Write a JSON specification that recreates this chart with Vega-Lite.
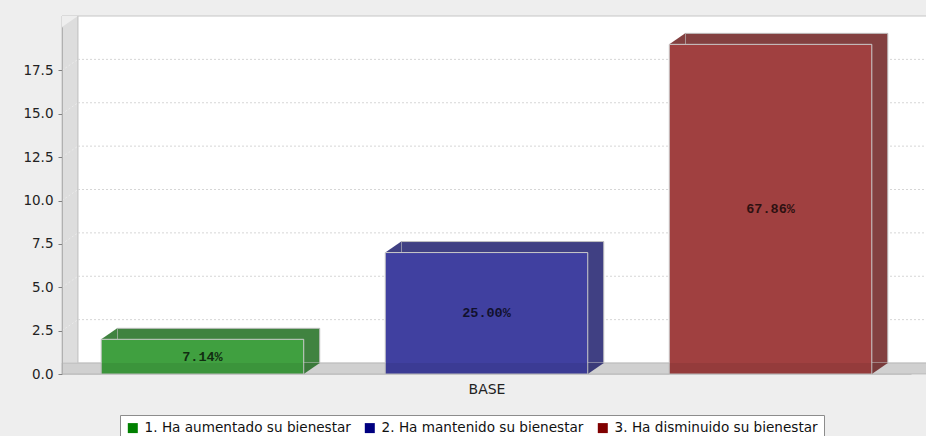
{
  "$schema": "https://vega.github.io/schema/vega-lite/v6.json",
  "width": 849,
  "height": 347,
  "autosize": "none",
  "padding": {"left": 62, "top": 27, "right": 15, "bottom": 62},
  "background": "#eeeeee",
  "config": {"view": {"stroke": null}, "font": "DejaVu Sans"},
  "datasets": {
    "respuestas": [
      {"serie": "1. Ha aumentado su bienestar", "grupo": "BASE", "cantidad": 2, "porcentaje": 0.0714},
      {"serie": "2. Ha mantenido su bienestar", "grupo": "BASE", "cantidad": 7, "porcentaje": 0.25},
      {"serie": "3. Ha disminuido su bienestar", "grupo": "BASE", "cantidad": 19, "porcentaje": 0.6786}
    ],
    "rejilla": [{"v": 2.5}, {"v": 5}, {"v": 7.5}, {"v": 10}, {"v": 12.5}, {"v": 15}, {"v": 17.5}]
  },
  "layer": [
    {
      "data": {"values": [{}]},
      "layer": [
        {
          "mark": {"type": "rect", "fill": "#dddddd", "stroke": "#c6c6c6", "strokeWidth": 1, "x2Offset": 16, "yOffset": -11},
          "encoding": {
            "x": {"datum": 0, "type": "quantitative", "scale": {"domain": [0, 1], "nice": false, "zero": false}, "axis": null},
            "x2": {"datum": 0},
            "y": {"datum": 20, "type": "quantitative", "scale": {"domain": [0, 20], "nice": false}, "axis": null},
            "y2": {"datum": 0}
          }
        },
        {
          "mark": {"type": "point", "shape": "M0,0 L0,-0.6875 L1,-0.6875 Z", "size": 1024, "filled": true, "opacity": 1, "strokeWidth": 0, "fill": "#eeeeee"},
          "encoding": {
            "x": {"datum": 0, "type": "quantitative"},
            "y": {"datum": 20, "type": "quantitative"}
          }
        },
        {
          "mark": {"type": "rect", "fill": "white", "stroke": "#c6c6c6", "strokeWidth": 1, "xOffset": 16, "x2Offset": 16, "yOffset": -11, "y2Offset": -11},
          "encoding": {
            "x": {"datum": 0, "type": "quantitative"},
            "x2": {"datum": 1},
            "y": {"datum": 20, "type": "quantitative"},
            "y2": {"datum": 0}
          }
        },
        {
          "data": {"name": "rejilla"},
          "mark": {"type": "rule", "stroke": "#d6d6d6", "strokeWidth": 1, "strokeDash": [2, 2], "xOffset": 16, "x2Offset": 16, "yOffset": -11},
          "encoding": {
            "x": {"datum": 0, "type": "quantitative"},
            "x2": {"datum": 1},
            "y": {"field": "v", "type": "quantitative"}
          }
        },
        {
          "data": {"name": "rejilla"},
          "mark": {"type": "rule", "stroke": "#ebebeb", "strokeWidth": 1, "strokeDash": [2, 2], "x2Offset": 16, "y2Offset": -11},
          "encoding": {
            "x": {"datum": 0, "type": "quantitative"},
            "x2": {"datum": 0},
            "y": {"field": "v", "type": "quantitative"},
            "y2": {"field": "v"}
          }
        },
        {
          "mark": {"type": "rect", "fill": "#e0e0e0", "stroke": "#c6c6c6", "strokeWidth": 1, "x2Offset": 16, "yOffset": -11},
          "encoding": {
            "x": {"datum": 0, "type": "quantitative"},
            "x2": {"datum": 1},
            "y": {"datum": 0, "type": "quantitative"},
            "y2": {"datum": 0}
          }
        }
      ]
    },
    {
      "data": {"name": "respuestas"},
      "layer": [
        {
          "encoding": {
            "x": {
              "field": "serie",
              "type": "nominal",
              "sort": null,
              "scale": {"paddingInner": 0.287, "paddingOuter": 0.138},
              "axis": {
                "orient": "bottom",
                "labels": false,
                "ticks": false,
                "domain": true,
                "domainColor": "#c0c0c0",
                "title": "BASE",
                "titleFont": "DejaVu Sans",
                "titleFontSize": 14,
                "titleFontWeight": "normal",
                "titleColor": "#222222",
                "titlePadding": 8
              }
            },
            "y": {
              "field": "cantidad",
              "type": "quantitative",
              "scale": {"domain": [0, 20], "nice": false},
              "axis": {
                "orient": "left",
                "values": [0, 2.5, 5, 7.5, 10, 12.5, 15, 17.5],
                "format": ".1f",
                "grid": false,
                "title": null,
                "labelFont": "DejaVu Sans",
                "labelFontSize": 13.5,
                "labelColor": "#222222",
                "labelPadding": 5,
                "tickSize": 4,
                "tickColor": "#808080",
                "domainColor": "#b0b0b0",
                "zindex": 1
              }
            }
          },
          "layer": [
            {
              "mark": {"type": "bar", "xOffset": 16, "x2Offset": 16, "yOffset": -11, "y2Offset": -11, "stroke": "#c0c0c0", "strokeWidth": 1},
              "encoding": {
                "fill": {"field": "serie", "type": "nominal", "sort": "descending", "scale": {"range": ["#834040", "#404083", "#408340"]}, "legend": null}
              }
            },
            {
              "mark": {"type": "point", "shape": "M0,0 L1,-0.6875 L1,0 Z", "size": 1024, "filled": true, "opacity": 1, "strokeWidth": 0},
              "encoding": {
                "x": {"field": "serie", "type": "nominal", "sort": null, "bandPosition": 0},
                "fill": {"field": "serie", "type": "nominal", "sort": "descending", "legend": null}
              }
            },
            {
              "mark": {"type": "point", "shape": "M0,0 L0,-0.6875 L1,-0.6875 Z", "size": 1024, "filled": true, "opacity": 1, "strokeWidth": 0},
              "encoding": {
                "x": {"field": "serie", "type": "nominal", "sort": null, "bandPosition": 1},
                "y": {"datum": 0, "type": "quantitative"},
                "fill": {"field": "serie", "type": "nominal", "sort": "descending", "legend": null}
              }
            },
            {
              "mark": {"type": "bar", "fill": "white"}
            },
            {
              "mark": {"type": "bar", "fillOpacity": 0.75, "stroke": "#c8c8c8", "strokeWidth": 1},
              "encoding": {
                "color": {
                  "field": "serie",
                  "type": "nominal",
                  "sort": null,
                  "scale": {"range": ["#008000", "#000080", "#800000"]},
                  "legend": {
                    "title": null,
                    "orient": "none",
                    "legendX": 58,
                    "legendY": 388,
                    "direction": "horizontal",
                    "symbolType": "square",
                    "symbolSize": 100,
                    "symbolOpacity": 1,
                    "symbolStrokeWidth": 0,
                    "labelFont": "DejaVu Sans",
                    "labelFontSize": 13.6,
                    "labelColor": "#111111",
                    "labelOffset": 5,
                    "labelLimit": 400,
                    "columnPadding": 12,
                    "padding": 6,
                    "strokeColor": "#8c8c8c",
                    "fillColor": "white"
                  }
                }
              }
            }
          ]
        },
        {
          "mark": {"type": "text", "font": "Liberation Mono", "fontWeight": "bold", "fontSize": 13.5, "fill": "black", "opacity": 0.72, "baseline": "middle"},
          "encoding": {
            "x": {"field": "serie", "type": "nominal", "sort": null},
            "y": {"field": "cantidad", "type": "quantitative", "scale": {"domain": [0, 40], "nice": false}, "axis": null},
            "text": {"field": "porcentaje", "type": "quantitative", "format": ".2%"}
          }
        }
      ],
      "resolve": {"scale": {"y": "independent"}}
    },
    {
      "data": {"values": [{}]},
      "mark": {"type": "rect", "fill": "black", "opacity": 0.07, "x2Offset": 16, "yOffset": -11},
      "encoding": {
        "x": {"datum": 0, "type": "quantitative", "scale": {"domain": [0, 1], "nice": false, "zero": false}, "axis": null},
        "x2": {"datum": 1},
        "y": {"datum": 0, "type": "quantitative", "scale": {"domain": [0, 20], "nice": false}, "axis": null},
        "y2": {"datum": 0}
      }
    }
  ],
  "resolve": {"scale": {"x": "independent", "y": "independent"}}
}
